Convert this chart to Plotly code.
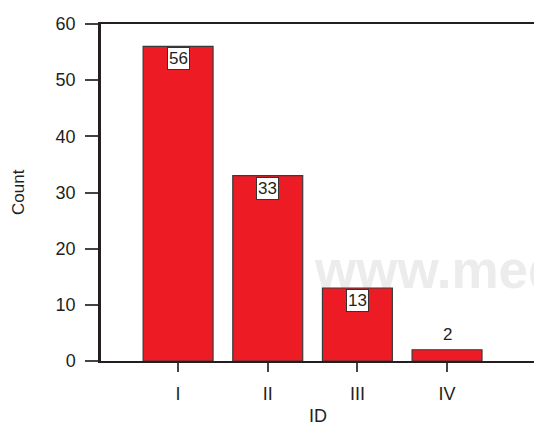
import plotly.graph_objects as go

categories = ["I", "II", "III", "IV"]
counts = [56, 33, 13, 2]
y_ticks = [0, 10, 20, 30, 40, 50, 60]

TXT = "#231F20"
L, R, T, B = 101, 534, 24, 361
W, H = 534, 426

def px(x):
    return (x - L) / (R - L)

def py(y):
    return (B - y) / (B - T)

fig = go.Figure()
fig.add_trace(go.Bar(
    x=categories, y=counts, width=0.78,
    marker=dict(color="#ED1C24", line=dict(color="#3A3A3A", width=1.2)),
    hoverinfo="x+y",
))

for c, v in zip(categories, counts):
    if v >= 8:
        fig.add_annotation(x=c, y=v, yanchor="top", yshift=-1, text=str(v), showarrow=False,
                           font=dict(size=17, color=TXT, family="Liberation Sans, Arial"),
                           bgcolor="white", bordercolor="#333333", borderwidth=1, borderpad=1)
    else:
        fig.add_annotation(x=c, y=v, yanchor="bottom", yshift=4, text=str(v), showarrow=False,
                           font=dict(size=17, color=TXT, family="Liberation Sans, Arial"))

# watermark below bars
fig.add_shape(type="rect", xref="paper", yref="paper", x0=px(312), x1=px(900), y0=py(289), y1=py(239),
              line=dict(width=0), fillcolor="rgba(0,0,0,0)", layer="below",
              label=dict(text="<b>www.med</b>", textposition="middle left", padding=0,
                         font=dict(size=53, color="#ECECEC", family="Liberation Sans Narrow, Liberation Sans, Arial")))

fig.add_annotation(xref="paper", yref="paper", x=px(18), y=py(192), xanchor="center", yanchor="middle",
                   text="Count", textangle=-90,
                   showarrow=False, font=dict(size=17, color=TXT, family="Liberation Sans, Arial"))
fig.add_annotation(xref="paper", yref="paper", x=px(318), y=py(416), xanchor="center", yanchor="middle",
                   text="ID",
                   showarrow=False, font=dict(size=18, color=TXT, family="Liberation Sans, Arial"))

fig.update_layout(
    width=W, height=H,
    margin=dict(l=L, r=W - R, t=T, b=H - B),
    paper_bgcolor="white", plot_bgcolor="white",
    showlegend=False,
    font=dict(family="Liberation Sans, Arial", color=TXT, size=18),
)
fig.update_xaxes(range=[-0.86, 3.97], showgrid=False, zeroline=False,
                 showline=True, linecolor=TXT, linewidth=2, mirror=True,
                 ticks="outside", ticklen=9, tickwidth=1.5, tickcolor="#444444",
                 tickfont=dict(size=18, color=TXT), ticklabelstandoff=6)
fig.update_yaxes(range=[0, 60], tickvals=y_ticks, showgrid=False, zeroline=False,
                 showline=True, linecolor=TXT, linewidth=2.5,
                 ticks="outside", ticklen=13, tickwidth=1.5, tickcolor="#444444",
                 tickfont=dict(size=18, color=TXT), ticklabelstandoff=6)

fig.write_html("out.html", config={"displayModeBar": False},
               post_script="document.body.style.margin='0';document.body.style.overflow='hidden';")
